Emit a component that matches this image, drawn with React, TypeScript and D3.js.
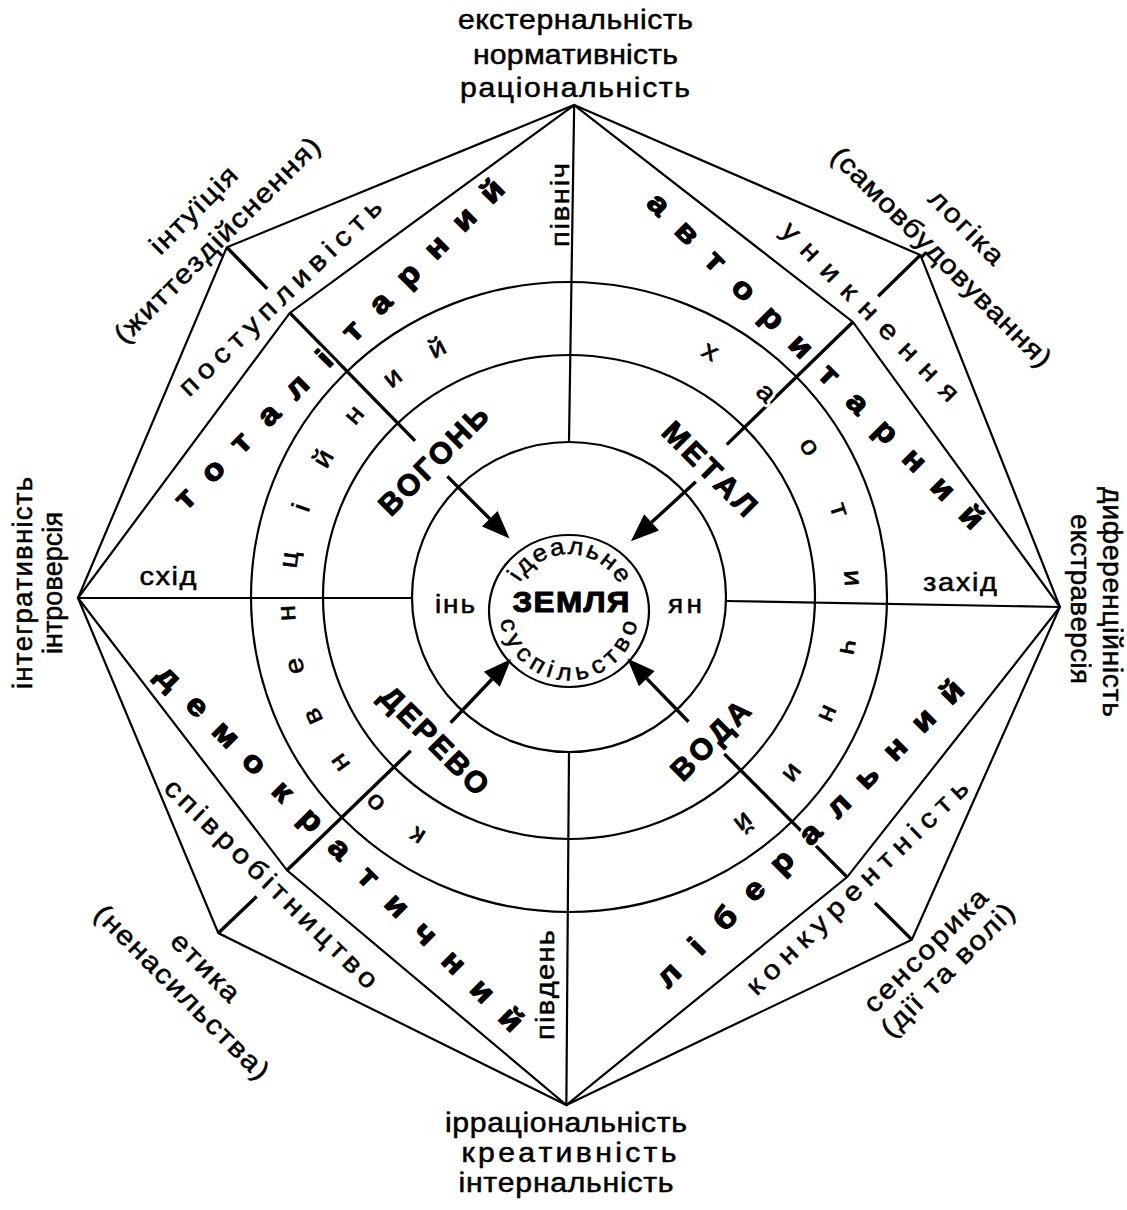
import React from "react";
import * as d3 from "d3";

// ---------- content ----------
const topLabel = ["екстернальність", "нормативність", "раціональність"];
const bottomLabel = ["ірраціональність", "креативність", "інтернальність"];
const leftLabel = ["інтегративність", "інтроверсія"];
const rightLabel = ["диференційність", "екстраверсія"];
const nwLabel = ["інтуїція", "(життездійснення)"];
const neLabel = ["логіка", "(самовбудовування)"];
const seLabel = ["сенсорика", "(дії та волі)"];
const swLabel = ["етика", "(ненасильства)"];
const directions = ["північ", "південь", "схід", "захід"];
const strategies = ["поступливість", "уникнення", "конкурентність", "співробітництво"];
const regimes = ["тоталітарний", "авторитарний", "ліберальний", "демократичний"];
const ringWords = ["хаотичний", "конвенційний"];
const elements = ["ВОГОНЬ", "МЕТАЛ", "ВОДА", "ДЕРЕВО"];
const centerWords = ["ЗЕМЛЯ", "ідеальне", "суспільство"];
const yinYang = ["інь", "ян"];

// ---------- geometry (polar: [radius, angle°]) ----------
const W = 1127, H = 1210;
const CX = 569, CY = 598;
const outerVertices: [number, number][] = [[493, -89.4], [491, -44.3], [491, 1.05], [484, 44.9], [507, 90.3], [485, 136.3], [491, 180], [490, -134.3]];
const starVertices: [number, number][] = [[493, -89.4], [396, -44.2], [491, 1.05], [394, 45.1], [507, 90.3], [392, 136], [491, 180], [399, -134.4]];
const ringRadii: [number, number][] = [[157, 155], [246, 242], [318, 315]];
const arrowAngles = [-135, -42.5, 46, 133.5];

const FONT = '"Liberation Sans", Arial, Helvetica, sans-serif';
let ctx: CanvasRenderingContext2D | null = null;
function measure(ch: string, size: number, weight: number) {
  if (!ctx) ctx = document.createElement("canvas").getContext("2d");
  ctx!.font = `${weight} ${size}px ${FONT}`;
  return ctx!.measureText(ch).width;
}

type Pt = { x: number; y: number; rot: number };
type PathFn = (s: number) => Pt;
const rad = (d: number) => (d * Math.PI) / 180;
const linePath = (mx: number, my: number, deg: number): PathFn => (s) => ({ x: mx + s * Math.cos(rad(deg)), y: my + s * Math.sin(rad(deg)), rot: deg });
const arcPath = (cx: number, cy: number, r: number, mid: number, cw: boolean): PathFn => (s) => {
  const th = mid + ((cw ? 1 : -1) * (s / r) * 180) / Math.PI;
  return { x: cx + r * Math.cos(rad(th)), y: cy + r * Math.sin(rad(th)), rot: th + (cw ? 90 : -90) };
};

type Opts = { len?: number; span?: number; pitch?: number; ls?: number };
function layout(text: string, size: number, weight: number, sx: number, o: Opts): number[] {
  const chars = Array.from(text);
  const n = chars.length;
  if (o.pitch != null) return chars.map((_, i) => (i - (n - 1) / 2) * o.pitch!);
  const w = chars.map((c) => measure(c, size, weight) * sx);
  const sumW = d3.sum(w);
  let ls = o.ls ?? 0;
  if (o.len != null) ls = (o.len - sumW) / (n - 1);
  if (o.span != null) ls = (o.span - (sumW - w[0] / 2 - w[n - 1] / 2)) / (n - 1);
  const total = sumW + (n - 1) * ls;
  let acc = -total / 2;
  return w.map((wi) => {
    const s = acc + wi / 2;
    acc += wi + ls;
    return s;
  });
}

function PathText(p: { text: string; path: PathFn; size: number; weight?: number; o: Opts; dy?: number; halo?: boolean; sx?: number; sw?: number }) {
  const weight = p.weight ?? 400;
  const sx = p.sx ?? 1.12;
  const sw = p.sw ?? 0.5;
  const pos = layout(p.text, p.size, weight, sx, p.o);
  const chars = Array.from(p.text);
  return (
    <g fontSize={p.size} fontWeight={weight} fontFamily={FONT} textAnchor="middle">
      {chars.map((c, i) => {
        const q = p.path(pos[i]);
        const tr = `translate(${q.x.toFixed(2)},${q.y.toFixed(2)}) rotate(${q.rot.toFixed(2)}) scale(${sx},1)`;
        return (
          <g key={i} transform={tr}>
            {p.halo && (
              <text dy={`${p.dy ?? 0.26}em`} fill="#fff" stroke="#fff" strokeWidth={6} strokeLinejoin="round">
                {c}
              </text>
            )}
            <text dy={`${p.dy ?? 0.26}em`} fill="#000" stroke="#000" strokeWidth={sw} strokeLinejoin="round">
              {c}
            </text>
          </g>
        );
      })}
    </g>
  );
}

export default function App() {
  const pol = (r: number, deg: number): [number, number] => [CX + r * Math.cos(rad(deg)), CY + r * Math.sin(rad(deg))];
  const line = d3.line();
  const outerPath = line(outerVertices.map(([r, a]) => pol(r, a)))! + "Z";
  const starPath = line(starVertices.map(([r, a]) => pol(r, a)))! + "Z";

  const LS = 27;
  const straight: { text: string; x: number; y: number; rot: number; len: number; size: number; sx?: number }[] = [
    { text: topLabel[0], x: 575.5, y: 22, rot: 0, len: 235, size: LS },
    { text: topLabel[1], x: 575.5, y: 56.5, rot: 0, len: 205, size: LS },
    { text: topLabel[2], x: 575, y: 90, rot: 0, len: 230, size: LS },
    { text: bottomLabel[0], x: 566, y: 1125, rot: 0, len: 242, size: LS },
    { text: bottomLabel[1], x: 569, y: 1155, rot: 0, len: 215, size: LS },
    { text: bottomLabel[2], x: 566, y: 1185, rot: 0, len: 215, size: LS },
    { text: leftLabel[0], x: 25, y: 583, rot: -90, len: 212, size: LS, sx: 1.02 },
    { text: leftLabel[1], x: 55, y: 583, rot: -90, len: 142, size: LS, sx: 1.0 },
    { text: rightLabel[0], x: 1110, y: 602, rot: 90, len: 230, size: LS, sx: 1.05 },
    { text: rightLabel[1], x: 1078, y: 599, rot: 90, len: 170, size: LS, sx: 1.03 },
    { text: nwLabel[0], x: 195, y: 211.5, rot: -45, len: 112, size: LS },
    { text: nwLabel[1], x: 218.5, y: 241.5, rot: -45, len: 279, size: LS },
    { text: neLabel[0], x: 965, y: 228.5, rot: 45, len: 94, size: LS },
    { text: neLabel[1], x: 940, y: 258.5, rot: 45, len: 299, size: LS },
    { text: seLabel[0], x: 927, y: 952, rot: -45, len: 163, size: LS },
    { text: seLabel[1], x: 949, y: 971.5, rot: -45, len: 177, size: LS },
    { text: swLabel[0], x: 204, y: 968.5, rot: 45, len: 86, size: LS },
    { text: swLabel[1], x: 180.5, y: 993.5, rot: 45, len: 235, size: LS },
    { text: directions[0], x: 562, y: 205, rot: -90, len: 84, size: 26 },
    { text: directions[1], x: 547, y: 985, rot: -90, len: 110, size: 26 },
    { text: directions[2], x: 168, y: 578, rot: 0, len: 57, size: 26 },
    { text: directions[3], x: 960, y: 584, rot: 0, len: 74, size: 26 },
    { text: yinYang[0], x: 455, y: 606, rot: 0, len: 40, size: 25 },
    { text: yinYang[1], x: 685, y: 606, rot: 0, len: 34, size: 25 },
  ];

  const stratLayout = [
    { x: 281.5, y: 298.5, rot: -44, span: 255 },
    { x: 869, y: 313, rot: 45.4, span: 225 },
    { x: 858.5, y: 888.5, rot: -44, span: 283 },
    { x: 270, y: 885, rot: 44.4, span: 271 },
  ];

  const diag = (deg: number) => [Math.cos(rad(deg)), Math.sin(rad(deg))];
  const regimeLayout = [
    { axis: -135, u: 340, v: 16, vdir: -45, rot: -45, pitch: 39.5 },
    { axis: -45, u: 340, v: 6, vdir: 45, rot: 45, pitch: 40.2 },
    { axis: 45, u: 339, v: 4, vdir: -45, rot: -45, pitch: 40 },
    { axis: 135, u: 341, v: 15, vdir: 45, rot: 45, pitch: 40.3 },
  ];

  const elementLayout = [
    { x: 433, y: 460, rot: -45, len: 141 },
    { x: 710, y: 468.5, rot: 45, len: 120 },
    { x: 710, y: 740, rot: -45, len: 99 },
    { x: 435, y: 740, rot: 45, len: 140 },
  ];

  return (
    <svg width={W} height={H} viewBox={`0 0 ${W} ${H}`} style={{ position: "absolute", left: 0, top: 0, background: "#fff" }}>
      <rect width={W} height={H} fill="#fff" />
      <g fill="none" stroke="#000" strokeLinejoin="miter">
        <path d={outerPath} strokeWidth={2.2} />
        <path d={starPath} strokeWidth={2.2} />
        {ringRadii.map(([rx, ry], i) => (
          <ellipse key={i} cx={CX} cy={597} rx={rx} ry={ry} strokeWidth={2.2} />
        ))}
        <ellipse cx={569} cy={611} rx={80} ry={76} strokeWidth={2.2} />
        <line x1={pol(493, -89.4)[0]} y1={pol(493, -89.4)[1]} x2={569} y2={597 - 155} strokeWidth={2.2} />
        <line x1={569} y1={597 + 155} x2={pol(507, 90.3)[0]} y2={pol(507, 90.3)[1]} strokeWidth={2.2} />
        <line x1={pol(491, 180)[0]} y1={pol(491, 180)[1]} x2={569 - 157} y2={598} strokeWidth={2.2} />
        <line x1={569 + 157} y1={601} x2={pol(491, 1.05)[0]} y2={pol(491, 1.05)[1]} strokeWidth={2.2} />
        {[1, 3, 5, 7].map((k) => {
          const [rs, as] = starVertices[k];
          const [ro, ao] = outerVertices[k];
          const a1 = pol(220, as), a2 = pol(rs, as);
          const b1 = pol(432, ao), b2 = pol(ro, ao);
          return (
            <g key={k} strokeWidth={3.4}>
              <line x1={a1[0]} y1={a1[1]} x2={a2[0]} y2={a2[1]} />
              <line x1={b1[0]} y1={b1[1]} x2={b2[0]} y2={b2[1]} />
            </g>
          );
        })}
        {arrowAngles.map((a, i) => {
          const s = pol(172, a);
          const t = pol(84, a);
          const base = pol(84 + 28, a);
          const [dx, dy] = diag(a);
          const hw = 11;
          const p1 = [base[0] - dy * hw, base[1] + dx * hw];
          const p2 = [base[0] + dy * hw, base[1] - dx * hw];
          return (
            <g key={i}>
              <line x1={s[0]} y1={s[1]} x2={base[0]} y2={base[1]} strokeWidth={3.4} />
              <path d={`M${t[0]},${t[1]}L${p1[0]},${p1[1]}L${p2[0]},${p2[1]}Z`} fill="#000" stroke="none" />
            </g>
          );
        })}
      </g>

      {straight.map((t, i) => (
        <PathText key={"s" + i} text={t.text} path={linePath(t.x, t.y, t.rot)} size={t.size} sx={t.sx} o={{ len: t.len }} />
      ))}

      {strategies.map((t, i) => {
        const a = stratLayout[i];
        return <PathText key={"st" + i} text={t} path={linePath(a.x, a.y, a.rot)} size={27} o={{ span: a.span }} />;
      })}

      {regimes.map((t, i) => {
        const g = regimeLayout[i];
        const [ux, uy] = diag(g.axis);
        const [vx, vy] = diag(g.vdir);
        const mx = CX + g.u * ux + g.v * vx;
        const my = CY + g.u * uy + g.v * vy;
        return <PathText key={"r" + i} text={t} path={linePath(mx, my, g.rot)} size={30} weight={700} sx={1.12} sw={1.3} o={{ pitch: g.pitch }} halo />;
      })}

      <PathText text={ringWords[0]} path={arcPath(CX, CY, 283, -4.05, true)} size={26} sw={0.6} o={{ pitch: 283 * rad(14.04) }} halo />
      <PathText text={ringWords[1]} path={arcPath(CX, CY, 281, 182.35, true)} size={26} sw={0.6} o={{ pitch: 281 * rad(10.88) }} halo />

      {elements.map((t, i) => {
        const e = elementLayout[i];
        return <PathText key={"e" + i} text={t} path={linePath(e.x, e.y, e.rot)} size={30} weight={700} sx={1.0} sw={1} o={{ len: e.len }} dy={0.36} />;
      })}

      <PathText text={centerWords[0]} path={linePath(571, 601, 0)} size={30} weight={700} sx={1.05} sw={1} o={{ len: 117 }} dy={0.36} />
      <PathText text={centerWords[1]} path={arcPath(569, 611, 63, -89, true)} size={24} sx={1.08} o={{ span: 63 * rad(112) }} />
      <PathText text={centerWords[2]} path={arcPath(569, 611, 63, 91, false)} size={24} sx={1.08} o={{ span: 63 * rad(151) }} />
    </svg>
  );
}
